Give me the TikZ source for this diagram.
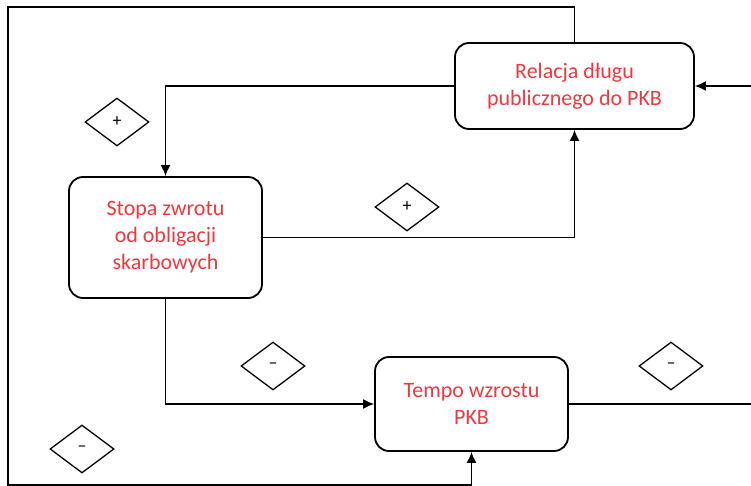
\documentclass[tikz,border=0pt]{standalone}
\usepackage{fontspec}
\setmainfont{Carlito}
\usetikzlibrary{shapes.geometric,arrows.meta}
\definecolor{czerwony}{RGB}{238,56,64}
\tikzset{
	blok/.style={draw, line width=1.8pt, rounded corners=14pt, align=center, text=czerwony,
		inner sep=0pt, font=\fontsize{22}{27}\selectfont},
	znak/.style={draw, diamond, line width=1.3pt, minimum width=64pt, minimum height=48pt,
		aspect=1.33, inner sep=0pt, font=\fontsize{18}{20}\selectfont},
	strz/.style={line width=1.5pt, arrows={-{Latex[length=11pt,width=10pt]}}},
	linia/.style={line width=1.5pt}
}
\begin{document}
\begin{tikzpicture}[x=1pt,y=-1pt]
	\useasboundingbox (0,0) rectangle (751,486);
	\node[blok, minimum width=239pt, minimum height=86pt] (rel) at (574.5,86) {Relacja długu\\publicznego do PKB};
	\node[blok, minimum width=193pt, minimum height=121pt] (stopa) at (165.5,237.5) {Stopa zwrotu\\od obligacji\\skarbowych};
	\node[blok, minimum width=193pt, minimum height=94pt] (tempo) at (471.5,404) {Tempo wzrostu\\PKB};
	\node[znak] (z1) at (117,122) {+};
	\node[znak] (z2) at (407,207) {+};
	\node[znak] (z3) at (273,366) {–};
	\node[znak] (z4) at (671,366) {–};
	\node[znak] (z5) at (82,449) {–};
	\coordinate (lg) at (8,7);
	\coordinate (ld) at (8,485);
	\coordinate (pg) at (751,86);
	\coordinate (pd) at (751,404);
	\draw[strz] (rel.north) |- (lg) -- (ld) -| (tempo.south);
	\draw[strz] (rel.west) -| (stopa.north);
	\draw[strz] (stopa.east) -| (rel.south);
	\draw[strz] (stopa.south) |- (tempo.west);
	\draw[linia] (tempo.east) -- (pd);
	\draw[strz] (pg) -- (rel.east);
\end{tikzpicture}
\end{document}
